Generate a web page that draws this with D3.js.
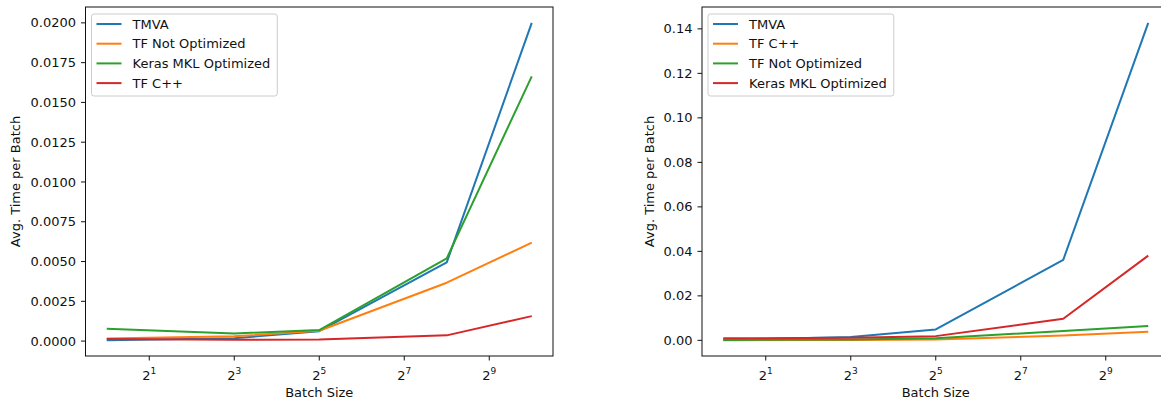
<!DOCTYPE html>
<html lang="en">
<head>
    <meta charset="UTF-8">
    <title>Avg. Time per Batch</title>
    <script src="https://d3js.org/d3.v7.min.js"></script>
    <style>
        body {
            margin: 0;
            background: #fff;
        }

        svg text {
            font-family: 'DejaVu Sans', sans-serif;
            font-size: 13px;
            fill: #111;
        }

        .spine, .tick-mark {
            stroke: #111;
            stroke-width: 1px;
            fill: none;
        }

        .series {
            fill: none;
            stroke-width: 2px;
            stroke-linejoin: round;
        }

        .legend-box {
            fill: #fff;
            fill-opacity: 0.8;
            stroke: #ccc;
            stroke-width: 1px;
        }
    </style>
</head>
<body>
    <svg id="chart" width="1161" height="405"></svg>

    <script>
        // data
        const batchSizes = [1, 8, 32, 256, 1024];
        const xTickExps = [1, 3, 5, 7, 9];

        const leftNames = ["TMVA", "TF Not Optimized", "Keras MKL Optimized", "TF C++"];
        const leftTMVA = [0.00006, 0.00018, 0.00062, 0.00495, 0.0200];
        const leftTFNotOpt = [0.00017, 0.00030, 0.00065, 0.00367, 0.00619];
        const leftKeras = [0.00077, 0.00048, 0.00069, 0.00520, 0.01664];
        const leftTFCpp = [0.00013, 0.00008, 0.00010, 0.00036, 0.00157];
        const leftYTicks = [0, 0.0025, 0.005, 0.0075, 0.01, 0.0125, 0.015, 0.0175, 0.02];

        const rightNames = ["TMVA", "TF C++", "TF Not Optimized", "Keras MKL Optimized"];
        const rightTMVA = [0.0003, 0.0015, 0.0049, 0.0362, 0.1427];
        const rightTFCpp = [0.0001, 0.0002, 0.0004, 0.0022, 0.0039];
        const rightTFNotOpt = [0.0002, 0.0004, 0.0010, 0.0042, 0.0064];
        const rightKeras = [0.0009, 0.0012, 0.0019, 0.0097, 0.0381];
        const rightYTicks = [0, 0.02, 0.04, 0.06, 0.08, 0.10, 0.12, 0.14];

        const colors = ["#1f77b4", "#ff7f0e", "#2ca02c", "#d62728"];

        const svg = d3.select("#chart");

        function drawPanel(box, names, seriesList, yTicks, yFmt, yLabelX) {
            const g = svg.append("g");

            // x: log2 with matplotlib-like 5% margins
            const lo = Math.log2(d3.min(batchSizes)), hi = Math.log2(d3.max(batchSizes));
            const xPad = (hi - lo) * 0.05;
            const x = d3.scaleLog().base(2)
                .domain([Math.pow(2, lo - xPad), Math.pow(2, hi + xPad)])
                .range([box.x0, box.x1]);

            const all = seriesList.flat();
            const yMin = d3.min(all), yMax = d3.max(all);
            const yPad = (yMax - yMin) * 0.05;
            const y = d3.scaleLinear()
                .domain([yMin - yPad, yMax + yPad])
                .range([box.y1, box.y0]);

            // lines
            const line = d3.line()
                .x((d, i) => x(batchSizes[i]))
                .y(d => y(d));

            seriesList.forEach((s, i) => {
                g.append("path")
                    .datum(s)
                    .attr("class", "series")
                    .attr("stroke", colors[i])
                    .attr("d", line);
            });

            // frame
            g.append("rect")
                .attr("class", "spine")
                .attr("x", box.x0)
                .attr("y", box.y0)
                .attr("width", box.x1 - box.x0)
                .attr("height", box.y1 - box.y0);

            // y ticks
            yTicks.forEach(t => {
                const py = y(t);
                g.append("line")
                    .attr("class", "tick-mark")
                    .attr("x1", box.x0 - 4.5).attr("x2", box.x0)
                    .attr("y1", py).attr("y2", py);
                g.append("text")
                    .attr("x", box.x0 - 9.5)
                    .attr("y", py)
                    .attr("dy", "0.35em")
                    .attr("text-anchor", "end")
                    .text(yFmt(t));
            });

            // x ticks, 2^n
            xTickExps.forEach(e => {
                const px = x(Math.pow(2, e));
                g.append("line")
                    .attr("class", "tick-mark")
                    .attr("x1", px).attr("x2", px)
                    .attr("y1", box.y1).attr("y2", box.y1 + 4.5);
                const t = g.append("text")
                    .attr("x", px)
                    .attr("y", box.y1 + 24)
                    .attr("text-anchor", "middle");
                t.append("tspan").text("2");
                t.append("tspan")
                    .attr("dy", -6)
                    .style("font-size", "9px")
                    .text(e);
            });

            // axis labels
            g.append("text")
                .attr("x", (box.x0 + box.x1) / 2)
                .attr("y", box.y1 + 41)
                .attr("text-anchor", "middle")
                .text("Batch Size");

            g.append("text")
                .attr("transform", `translate(${yLabelX},${(box.y0 + box.y1) / 2}) rotate(-90)`)
                .attr("text-anchor", "middle")
                .attr("dy", "0.35em")
                .text("Avg. Time per Batch");

            // legend, upper left
            const lg = g.append("g");
            const lx = box.x0 + 6, ly = box.y0 + 7;
            const frame = lg.append("rect")
                .attr("class", "legend-box")
                .attr("rx", 2.5)
                .attr("x", lx)
                .attr("y", ly)
                .attr("height", 82);

            let maxW = 0;
            names.forEach((n, i) => {
                const cy = ly + 10 + i * 19.7;
                lg.append("line")
                    .attr("x1", lx + 5).attr("x2", lx + 30)
                    .attr("y1", cy).attr("y2", cy)
                    .attr("stroke", colors[i])
                    .attr("stroke-width", 2);
                const tx = lg.append("text")
                    .attr("x", lx + 41)
                    .attr("y", cy)
                    .attr("dy", "0.35em")
                    .text(n);
                maxW = Math.max(maxW, tx.node().getComputedTextLength());
            });
            frame.attr("width", 41 + maxW + 7);
        }

        drawPanel({ x0: 85.5, x1: 553, y0: 7, y1: 356 }, leftNames,
            [leftTMVA, leftTFNotOpt, leftKeras, leftTFCpp],
            leftYTicks, d3.format(".4f"), 15);

        drawPanel({ x0: 702, x1: 1169.5, y0: 7, y1: 356 }, rightNames,
            [rightTMVA, rightTFCpp, rightTFNotOpt, rightKeras],
            rightYTicks, d3.format(".2f"), 649);
    </script>
</body>
</html>
